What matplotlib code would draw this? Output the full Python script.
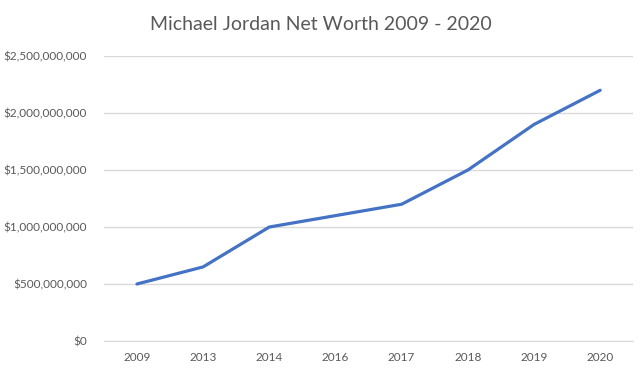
import matplotlib
matplotlib.use("Agg")
import matplotlib.pyplot as plt
from matplotlib.ticker import FuncFormatter

years = ["2009", "2013", "2014", "2016", "2017", "2018", "2019", "2020"]
net_worth = [500e6, 650e6, 1000e6, 1100e6, 1200e6, 1500e6, 1900e6, 2200e6]

plt.rcParams['font.family'] = ['Lato', 'DejaVu Sans']

fig = plt.figure(figsize=(6.41, 3.84), dpi=100)
ax = fig.add_axes([0.162, 0.112, 0.826, 0.742])

x = list(range(len(years)))
ax.plot(x, net_worth, color="#4472C4", linewidth=2.3, solid_capstyle="round")

ax.set_xlim(-0.5, len(years) - 0.5)
ax.set_ylim(0, 2.5e9)
ax.set_yticks([0, 5e8, 1e9, 1.5e9, 2e9, 2.5e9])
ax.yaxis.set_major_formatter(FuncFormatter(lambda v, p: f"${v:,.0f}"))
ax.set_xticks(x)
ax.set_xticklabels(years)

ax.grid(axis="y", color="#D9D9D9", linewidth=1)
ax.set_axisbelow(True)
for s in ["top", "right", "left"]:
    ax.spines[s].set_visible(False)
ax.spines["bottom"].set_color("#D9D9D9")
ax.tick_params(length=0, labelsize=8.5, colors="#595959", pad=8)
ax.tick_params(axis="y", pad=12)

fig.text(0.5, 0.937, "Michael Jordan Net Worth 2009 - 2020", ha="center", va="center",
         fontsize=14, color="#595959")

fig.savefig("out.png", dpi=100)
